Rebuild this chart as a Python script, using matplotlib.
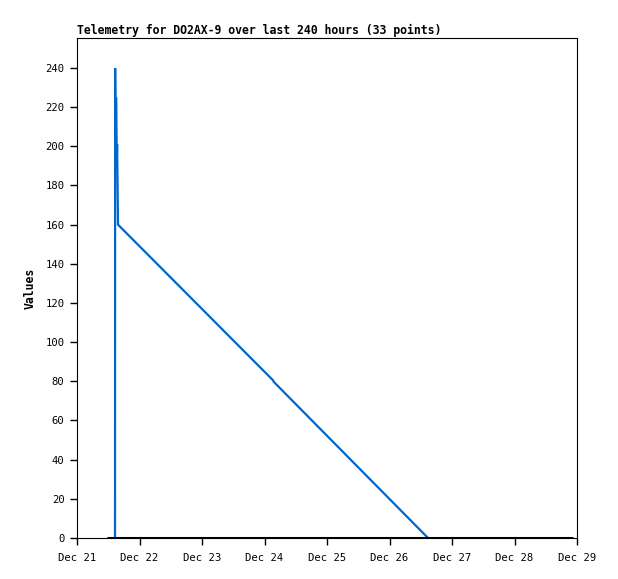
import numpy as np
import matplotlib.pyplot as plt
import matplotlib.dates as mdates
from datetime import datetime, timedelta

title = "Telemetry for DO2AX-9 over last 240 hours (33 points)"
start = datetime(2024, 12, 21)

# hours after Dec 21 00:00 and telemetry values
blue_hours = [14.6, 14.65, 14.9, 15.0, 15.3, 15.4, 15.75, 75.3, 75.5, 134.8]
blue_vals = [0, 240, 192, 225, 193, 201, 160, 80.5, 79.8, 0]
black_hours = [11.5, 190.5]
black_vals = [0, 0]

xticks = [start + timedelta(days=d) for d in range(9)]
xtick_labels = ["Dec %d" % (21 + d) for d in range(9)]

bt = [start + timedelta(hours=h) for h in blue_hours]
kt = [start + timedelta(hours=h) for h in black_hours]

plt.rcParams['font.family'] = ['DejaVu Sans Mono']
fig = plt.figure(figsize=(6.18, 5.79), dpi=100)
ax = fig.add_axes([77/618, 1 - 538/579, 500/618, 500/579])

ax.plot(bt, blue_vals, color='#0066cc', lw=1.6, solid_joinstyle='miter')
ax.plot(kt, black_vals, color='black', lw=2.2, solid_capstyle='butt')

ax.set_xlim(start, start + timedelta(days=8))
ax.set_ylim(0, 255.3)
ax.set_yticks(np.arange(0, 241, 20))
ax.set_xticks(xticks)
ax.set_xticklabels(xtick_labels)
ax.tick_params(axis='both', labelsize=7.6, direction='out', length=5, width=1, pad=4)
ax.tick_params(axis='x', pad=6)
for s in ax.spines.values():
    s.set_linewidth(0.8)

ax.set_ylabel("Values", fontsize=8.3, fontweight='bold', labelpad=6)
ax.set_title(title, loc='left', fontsize=8.3, fontweight='bold', pad=3)

fig.savefig('out.png', dpi=100)
